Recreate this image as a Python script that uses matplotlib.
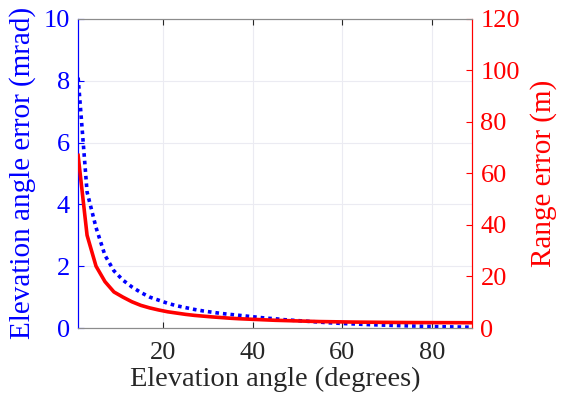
import matplotlib
matplotlib.use("Agg")
import matplotlib.pyplot as plt

elev_deg = [1, 3, 5, 7, 9, 11, 13, 15, 17, 19, 21, 23, 25, 27, 29, 31, 33, 35, 37, 39,
            41, 43, 45, 47, 49, 51, 53, 55, 57, 59, 61, 63, 65, 67, 69, 71, 73, 75, 77,
            79, 81, 83, 85, 87, 89]
elev_err_mrad = [8.1, 4.4, 3.25, 2.35, 1.85, 1.55, 1.33, 1.15, 1.0, 0.9, 0.8, 0.72, 0.66,
                 0.6, 0.55, 0.51, 0.47, 0.44, 0.41, 0.38, 0.35, 0.32, 0.3, 0.27, 0.25, 0.23,
                 0.21, 0.19, 0.17, 0.155, 0.14, 0.13, 0.115, 0.105, 0.095, 0.085, 0.075,
                 0.068, 0.06, 0.053, 0.046, 0.04, 0.035, 0.03, 0.025]
range_err_m = [67, 36, 24, 18, 14, 12, 10.2, 8.8, 7.8, 7.0, 6.3, 5.8, 5.3, 4.9, 4.6, 4.3,
               4.05, 3.8, 3.6, 3.45, 3.3, 3.15, 3.0, 2.9, 2.8, 2.7, 2.6, 2.5, 2.45, 2.4,
               2.35, 2.3, 2.27, 2.24, 2.2, 2.18, 2.15, 2.13, 2.11, 2.1, 2.09, 2.08, 2.07,
               2.06, 2.05]
x_ticks = [20, 40, 60, 80]
left_ticks = [0, 2, 4, 6, 8, 10]
right_ticks = [0, 20, 40, 60, 80, 100, 120]

BLUE = "#0000ff"
RED = "#ff0000"
GRAY = "#262626"
plt.rcParams['font.family'] = ['Liberation Serif', 'DejaVu Serif']

fig = plt.figure(figsize=(5.62, 4.01), dpi=100)
ax = fig.add_axes([0.139, 0.182, 0.701, 0.771])
ax2 = ax.twinx()

ax.plot(elev_deg, elev_err_mrad, color=BLUE, lw=2.6, linestyle=(0, (1, 1.1)),
        solid_capstyle='butt', dash_capstyle='butt', zorder=3)
ax2.plot(elev_deg, range_err_m, color=RED, lw=2.6, zorder=3)

ax.set_xlim(1, 89)
ax.set_ylim(0, 10)
ax2.set_ylim(0, 120)
ax.set_xticks(x_ticks)
ax.set_yticks(left_ticks)
ax2.set_yticks(right_ticks)

ax.grid(True, color="#ebebf2", lw=0.8)
ax.set_axisbelow(True)

ax.tick_params(axis='x', direction='in', top=True, colors=GRAY, labelsize=19, length=4,
               labelcolor=GRAY, pad=10)
ax.tick_params(axis='y', direction='in', colors=BLUE, labelsize=19, length=4,
               labelcolor=BLUE, pad=6, right=False)
ax2.tick_params(axis='y', direction='in', colors=RED, labelsize=19, length=4,
                labelcolor=RED, pad=6)

for a in (ax, ax2):
    a.spines['top'].set_color("#8c8c8c")
    a.spines['bottom'].set_color("#8c8c8c")
    a.spines['left'].set_color(BLUE)
    a.spines['right'].set_color(RED)
    for s in a.spines.values():
        s.set_linewidth(0.8)

ax.set_xlabel("Elevation angle (degrees)", fontsize=20.5, color=GRAY, labelpad=2)
ax.set_ylabel("Elevation angle error (mrad)", fontsize=21, color=BLUE, labelpad=5)
ax2.set_ylabel("Range error (m)", fontsize=21, color=RED, labelpad=7)

fig.savefig("out.png", dpi=100)
